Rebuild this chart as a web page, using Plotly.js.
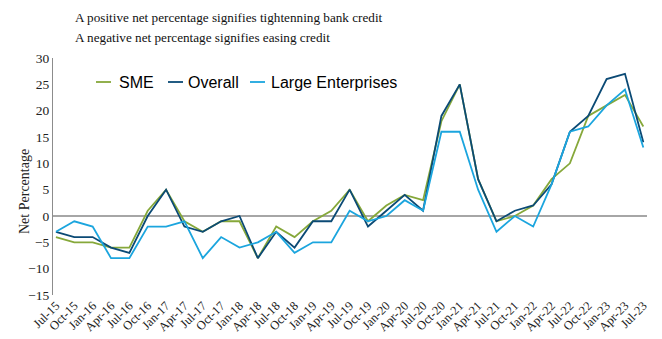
<!DOCTYPE html>
<html><head><meta charset="utf-8">
<script src="https://cdn.plot.ly/plotly-3.0.1.min.js"></script>
<style>body{margin:0;background:#fff}#chart{width:662px;height:339px}</style>
</head><body><div id="chart"></div>
<script>
const quarters = ["Jul-15","Oct-15","Jan-16","Apr-16","Jul-16","Oct-16","Jan-17","Apr-17","Jul-17","Oct-17","Jan-18","Apr-18","Jul-18","Oct-18","Jan-19","Apr-19","Jul-19","Oct-19","Jan-20","Apr-20","Jul-20","Oct-20","Jan-21","Apr-21","Jul-21","Oct-21","Jan-22","Apr-22","Jul-22","Oct-22","Jan-23","Apr-23","Jul-23"];
const sme     = [-4,-5,-5,-6,-6,1,5,-1,-3,-1,-1,-8,-2,-4,-1,1,5,-1,2,4,3,18,25,7,-1,0,2,7,10,19,21,23,17];
const overall = [-3,-4,-4,-6,-7,0,5,-2,-3,-1,0,-8,-3,-6,-1,-1,5,-2,1,4,1,19,25,7,-1,1,2,6,16,19,26,27,14];
const large   = [-3,-1,-2,-8,-8,-2,-2,-1,-8,-4,-6,-5,-3,-7,-5,-5,1,-1,0,3,1,16,16,5,-3,0,-2,6,16,17,21,24,13];
const seriesNames = ["SME","Overall","Large Enterprises"];
const yTicks = [-15,-10,-5,0,5,10,15,20,25,30];
const titleLines = ["A positive net percentage signifies tightenning bank credit","A negative net percentage signifies easing credit"];
const yTitle = "Net Percentage";

const colors = ["#86A83A","#0B4A75","#1BA5DE"];
const data = [sme, overall, large].map((vals, i) => ({
  x: quarters, y: vals, name: seriesNames[i], type: "scatter", mode: "lines",
  line: {color: colors[i], width: 1.8}, showlegend: false
}));

// plot-area geometry (px) for placing legend/title decorations
const L = 53, T = 58, W = 594, H = 237;
const px = x => (x - L) / W;
const py = y => (T + H - y) / H;

const serif = "Liberation Serif, DejaVu Serif, serif";
const sans = "Liberation Sans, Arial, sans-serif";

// custom legend: short line + label
const legLineX = [96, 168, 250];
const legTextX = [117, 186, 269];
const legY = 82;
const shapes = seriesNames.map((n, i) => ({
  type: "line", xref: "paper", yref: "paper",
  x0: px(legLineX[i]), x1: px(legLineX[i] + 15), y0: py(legY), y1: py(legY),
  line: {color: colors[i], width: 1.8}
}));
const annotations = seriesNames.map((n, i) => ({
  text: n, xref: "paper", yref: "paper", x: px(legTextX[i]), y: py(legY),
  xanchor: "left", yanchor: "middle", showarrow: false,
  font: {family: sans, size: 16, color: "#000"}
}));
titleLines.forEach((t, i) => annotations.push({
  text: t, xref: "paper", yref: "paper", x: px(73), y: py(17.5 + 20 * i),
  xanchor: "left", yanchor: "middle", showarrow: false,
  font: {family: serif, size: 13.2, color: "#111"}
}));
annotations.push({
  text: yTitle, xref: "paper", yref: "paper", x: px(24), y: py(192),
  xanchor: "center", yanchor: "middle", textangle: -90, showarrow: false,
  font: {family: serif, size: 14, color: "#222"}
});

const layout = {
  width: 662, height: 339,
  margin: {l: L, r: 662 - L - W, t: T, b: 339 - T - H},
  paper_bgcolor: "#fff", plot_bgcolor: "#fff",
  showlegend: false,
  xaxis: {type: "category", range: [-0.16, 32.2], showgrid: false, zeroline: false,
    showline: false, ticks: "", tickangle: -45, automargin: false,
    tickfont: {family: serif, size: 12.5, color: "#222"}},
  yaxis: {range: [-15, 30], tickvals: yTicks, showgrid: false, zeroline: true,
    zerolinecolor: "#a6a6a6", zerolinewidth: 1.3, showline: true, linecolor: "#8c8c8c", linewidth: 1,
    ticks: "", automargin: false,
    tickfont: {family: serif, size: 13.5, color: "#222"}},
  shapes: shapes,
  annotations: annotations
};
Plotly.newPlot("chart", data, layout, {displayModeBar: false, staticPlot: true});
</script></body></html>
